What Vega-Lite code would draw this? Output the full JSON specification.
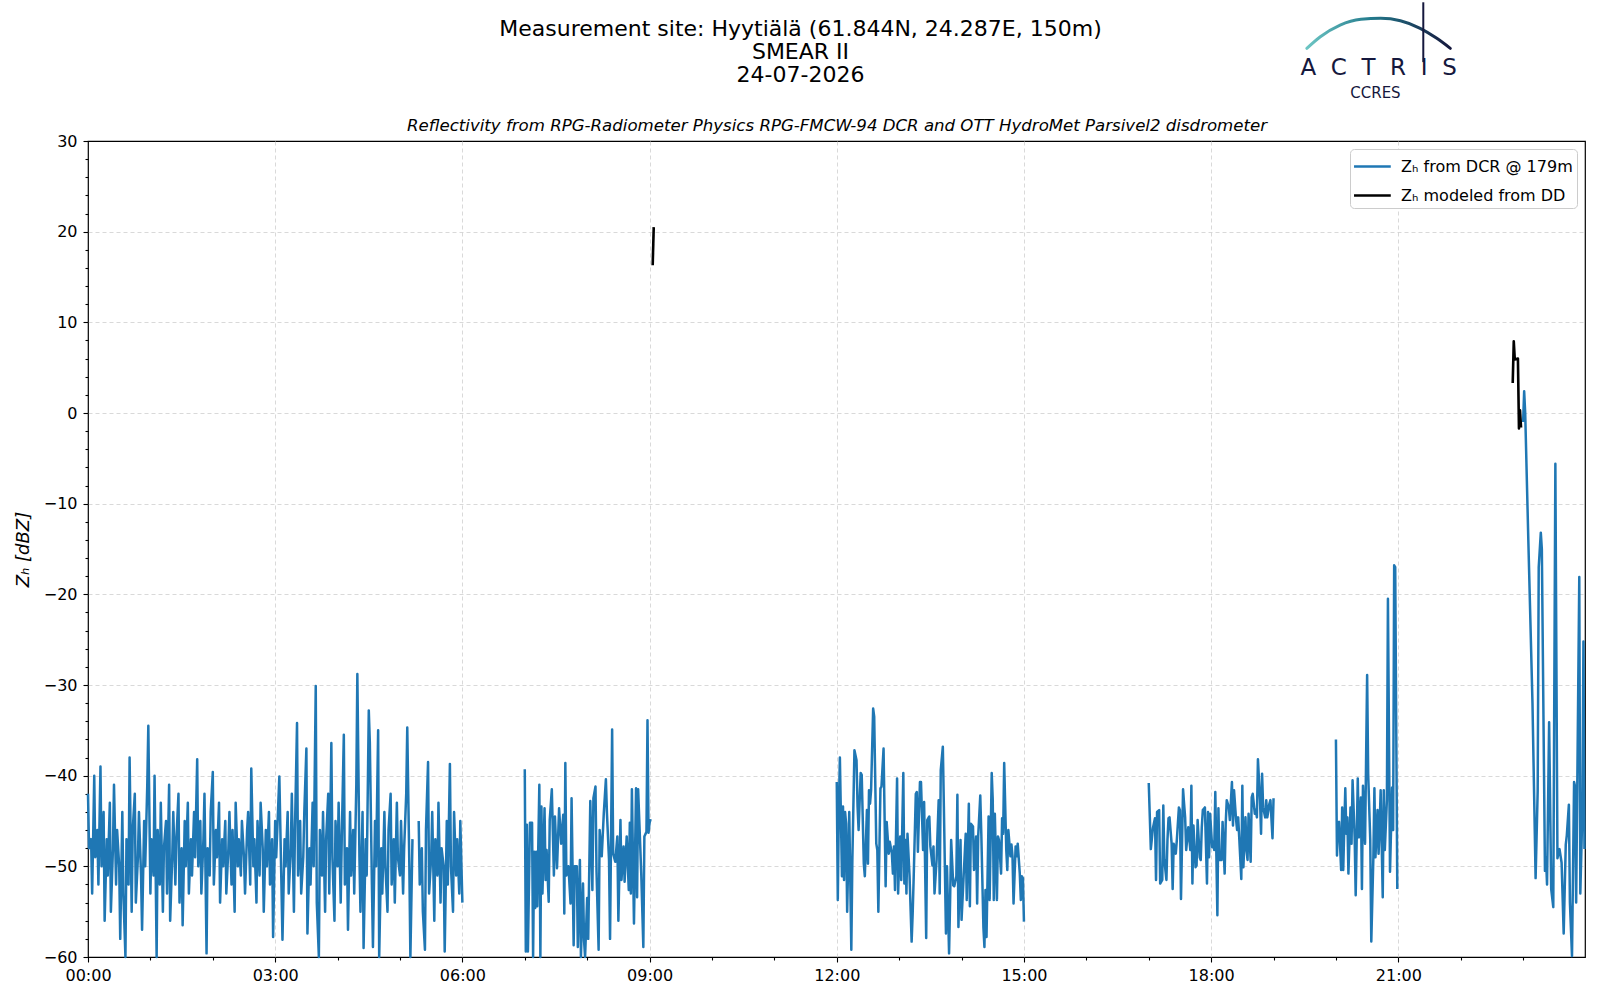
{
  "$schema": "https://vega.github.io/schema/vega-lite/v6.json",
  "autosize": "none",
  "width": 1497,
  "height": 816,
  "padding": {"left": 88, "top": 141, "right": 15, "bottom": 43},
  "background": "white",
  "title": {
    "text": ["Measurement site: Hyytiälä (61.844N, 24.287E, 150m)", "SMEAR II", "24-07-2026"],
    "anchor": "middle",
    "frame": "group",
    "dx": -36,
    "offset": -86,
    "font": "DejaVu Sans",
    "fontSize": 22,
    "fontWeight": "normal",
    "color": "black",
    "lineHeight": 23
  },
  "config": {
    "font": "DejaVu Sans",
    "view": {"stroke": "black", "strokeWidth": 1.2},
    "axis": {
      "labelFont": "DejaVu Sans",
      "labelColor": "black",
      "titleFont": "DejaVu Sans",
      "titleColor": "black",
      "tickColor": "black",
      "tickWidth": 1.1,
      "gridColor": "#cfcfcf",
      "gridDash": [4, 3],
      "gridWidth": 0.8
    }
  },
  "resolve": {"axis": {"x": "independent", "y": "independent"}},
  "layer": [
    {
      "data": {
        "values": [
          {"t":0,"z":-42,"s":1},{"t":1,"z":-48,"s":1},{"t":3,"z":-47,"s":1},{"t":4,"z":-53,"s":1},{"t":6,"z":-40,"s":1},
          {"t":7,"z":-49,"s":1},{"t":9,"z":-46,"s":1},{"t":10,"z":-52,"s":1},{"t":12,"z":-39,"s":1},{"t":13,"z":-50,"s":1},
          {"t":15,"z":-44,"s":1},{"t":16,"z":-56,"s":1},{"t":18,"z":-47,"s":1},{"t":19,"z":-51,"s":1},{"t":21,"z":-43,"s":1},
          {"t":22,"z":-55,"s":1},{"t":24,"z":-48,"s":1},{"t":25,"z":-41,"s":1},{"t":27,"z":-52,"s":1},{"t":28,"z":-46,"s":1},
          {"t":30,"z":-50,"s":1},{"t":31,"z":-58,"s":1},{"t":33,"z":-44,"s":1},{"t":34,"z":-53,"s":1},{"t":36,"z":-60,"s":1},
          {"t":37,"z":-47,"s":1},{"t":39,"z":-52,"s":1},{"t":40,"z":-38,"s":1},{"t":42,"z":-55,"s":1},{"t":43,"z":-46,"s":1},
          {"t":45,"z":-42,"s":1},{"t":46,"z":-54,"s":1},{"t":48,"z":-49,"s":1},{"t":49,"z":-44,"s":1},{"t":51,"z":-51,"s":1},
          {"t":52,"z":-57,"s":1},{"t":54,"z":-45,"s":1},{"t":55,"z":-50,"s":1},{"t":57,"z":-41,"s":1},{"t":58,"z":-34.5,"s":1},
          {"t":60,"z":-53,"s":1},{"t":61,"z":-47,"s":1},{"t":63,"z":-51,"s":1},{"t":64,"z":-40,"s":1},{"t":66,"z":-60,"s":1},
          {"t":67,"z":-46,"s":1},{"t":69,"z":-52,"s":1},{"t":70,"z":-43,"s":1},{"t":72,"z":-55,"s":1},{"t":73,"z":-48,"s":1},
          {"t":75,"z":-45,"s":1},{"t":76,"z":-53,"s":1},{"t":78,"z":-41,"s":1},{"t":79,"z":-56,"s":1},{"t":81,"z":-49,"s":1},
          {"t":82,"z":-44,"s":1},{"t":84,"z":-52,"s":1},{"t":85,"z":-47,"s":1},{"t":87,"z":-42,"s":1},{"t":88,"z":-54,"s":1},
          {"t":90,"z":-48,"s":1},{"t":91,"z":-56.5,"s":1},{"t":93,"z":-45,"s":1},{"t":94,"z":-50,"s":1},{"t":96,"z":-43,"s":1},
          {"t":97,"z":-53,"s":1},{"t":99,"z":-47,"s":1},{"t":100,"z":-51,"s":1},{"t":102,"z":-44,"s":1},{"t":103,"z":-49,"s":1},
          {"t":105,"z":-38.2,"s":1},{"t":106,"z":-50,"s":1},{"t":108,"z":-45,"s":1},{"t":109,"z":-53,"s":1},{"t":111,"z":-47,"s":1},
          {"t":112,"z":-42,"s":1},{"t":114,"z":-59.6,"s":1},{"t":115,"z":-48,"s":1},{"t":117,"z":-51,"s":1},{"t":118,"z":-44,"s":1},
          {"t":120,"z":-39.6,"s":1},{"t":121,"z":-52,"s":1},{"t":123,"z":-46,"s":1},{"t":124,"z":-49,"s":1},{"t":126,"z":-43,"s":1},
          {"t":127,"z":-54,"s":1},{"t":129,"z":-47,"s":1},{"t":130,"z":-50,"s":1},{"t":132,"z":-45,"s":1},{"t":133,"z":-53,"s":1},
          {"t":135,"z":-48,"s":1},{"t":136,"z":-44,"s":1},{"t":138,"z":-52,"s":1},{"t":139,"z":-46,"s":1},{"t":141,"z":-55,"s":1},
          {"t":142,"z":-43,"s":1},{"t":144,"z":-50,"s":1},{"t":145,"z":-47,"s":1},{"t":147,"z":-51,"s":1},{"t":148,"z":-45,"s":1},
          {"t":150,"z":-49,"s":1},{"t":151,"z":-53,"s":1},{"t":153,"z":-46,"s":1},{"t":154,"z":-44,"s":1},{"t":156,"z":-52,"s":1},
          {"t":157,"z":-39.2,"s":1},{"t":159,"z":-50,"s":1},{"t":160,"z":-47,"s":1},{"t":162,"z":-54,"s":1},{"t":163,"z":-45,"s":1},
          {"t":165,"z":-51,"s":1},{"t":166,"z":-43,"s":1},{"t":168,"z":-48,"s":1},{"t":169,"z":-55,"s":1},{"t":171,"z":-46,"s":1},
          {"t":172,"z":-50,"s":1},{"t":174,"z":-44,"s":1},{"t":175,"z":-52,"s":1},{"t":177,"z":-47,"s":1},{"t":178,"z":-57.8,"s":1},
          {"t":180,"z":-45,"s":1},{"t":181,"z":-49,"s":1},{"t":183,"z":-43,"s":1},{"t":184,"z":-40.1,"s":1},{"t":186,"z":-52,"s":1},
          {"t":187,"z":-58.1,"s":1},{"t":189,"z":-47,"s":1},{"t":190,"z":-50,"s":1},{"t":192,"z":-44,"s":1},{"t":193,"z":-53,"s":1},
          {"t":195,"z":-48,"s":1},{"t":196,"z":-42,"s":1},{"t":198,"z":-55,"s":1},{"t":199,"z":-46,"s":1},{"t":201,"z":-34.2,"s":1},
          {"t":202,"z":-51,"s":1},{"t":204,"z":-45,"s":1},{"t":205,"z":-53,"s":1},{"t":207,"z":-49,"s":1},{"t":208,"z":-44,"s":1},
          {"t":210,"z":-37,"s":1},{"t":211,"z":-57.4,"s":1},{"t":213,"z":-48,"s":1},{"t":214,"z":-52,"s":1},{"t":216,"z":-43,"s":1},
          {"t":217,"z":-50,"s":1},{"t":219,"z":-30.1,"s":1},{"t":220,"z":-54,"s":1},{"t":222,"z":-60,"s":1},{"t":223,"z":-46,"s":1},
          {"t":225,"z":-51,"s":1},{"t":226,"z":-44,"s":1},{"t":228,"z":-55,"s":1},{"t":229,"z":-47,"s":1},{"t":231,"z":-42,"s":1},
          {"t":232,"z":-53,"s":1},{"t":234,"z":-36.4,"s":1},{"t":235,"z":-49,"s":1},{"t":237,"z":-56,"s":1},{"t":238,"z":-45,"s":1},
          {"t":240,"z":-50,"s":1},{"t":241,"z":-43,"s":1},{"t":243,"z":-54,"s":1},{"t":244,"z":-47,"s":1},{"t":246,"z":-35.5,"s":1},
          {"t":247,"z":-52,"s":1},{"t":249,"z":-48,"s":1},{"t":250,"z":-57,"s":1},{"t":252,"z":-44,"s":1},{"t":253,"z":-51,"s":1},
          {"t":255,"z":-46,"s":1},{"t":256,"z":-53,"s":1},{"t":258,"z":-41,"s":1},{"t":259,"z":-28.8,"s":1},{"t":261,"z":-49,"s":1},
          {"t":262,"z":-55,"s":1},{"t":264,"z":-44,"s":1},{"t":265,"z":-59,"s":1},{"t":267,"z":-47,"s":1},{"t":268,"z":-51,"s":1},
          {"t":270,"z":-32.8,"s":1},{"t":271,"z":-36.3,"s":1},{"t":273,"z":-52,"s":1},{"t":274,"z":-58.9,"s":1},{"t":276,"z":-45,"s":1},
          {"t":277,"z":-50,"s":1},{"t":279,"z":-35,"s":1},{"t":280,"z":-60,"s":1},{"t":282,"z":-48,"s":1},{"t":283,"z":-53,"s":1},
          {"t":285,"z":-44,"s":1},{"t":286,"z":-50,"s":1},{"t":288,"z":-55,"s":1},{"t":289,"z":-46,"s":1},{"t":291,"z":-42,"s":1},
          {"t":292,"z":-52,"s":1},{"t":294,"z":-47,"s":1},{"t":295,"z":-54,"s":1},{"t":297,"z":-43,"s":1},{"t":298,"z":-49,"s":1},
          {"t":300,"z":-51,"s":1},{"t":301,"z":-45,"s":1},{"t":303,"z":-53,"s":1},{"t":304,"z":-48,"s":1},{"t":306,"z":-42,"s":1},
          {"t":307,"z":-34.7,"s":1},{"t":309,"z":-50,"s":1},{"t":310,"z":-60,"s":1},{"t":312,"z":-47,"s":1},
          {"t":318,"z":-45,"s":2},{"t":319,"z":-52,"s":2},{"t":321,"z":-48,"s":2},{"t":322,"z":-55,"s":2},{"t":324,"z":-59.2,"s":2},
          {"t":325,"z":-46,"s":2},{"t":327,"z":-38.5,"s":2},{"t":328,"z":-53,"s":2},{"t":330,"z":-49,"s":2},{"t":331,"z":-44,"s":2},
          {"t":333,"z":-56,"s":2},{"t":334,"z":-47,"s":2},{"t":336,"z":-51,"s":2},{"t":337,"z":-43,"s":2},{"t":339,"z":-54,"s":2},
          {"t":340,"z":-48,"s":2},{"t":342,"z":-50,"s":2},{"t":343,"z":-59.4,"s":2},{"t":345,"z":-45,"s":2},{"t":346,"z":-52,"s":2},
          {"t":348,"z":-38.7,"s":2},{"t":349,"z":-50,"s":2},{"t":351,"z":-55,"s":2},{"t":352,"z":-44,"s":2},{"t":354,"z":-51,"s":2},
          {"t":355,"z":-47,"s":2},{"t":357,"z":-53,"s":2},{"t":358,"z":-45,"s":2},{"t":360,"z":-54,"s":2},
          {"t":420,"z":-39.3,"s":3},{"t":421,"z":-59.4,"s":3},{"t":422,"z":-45.4,"s":3},{"t":423,"z":-59.4,"s":3},{"t":425,"z":-45.2,"s":3},
          {"t":427,"z":-45.2,"s":3},{"t":428,"z":-60,"s":3},{"t":429,"z":-48.4,"s":3},{"t":430,"z":-54.6,"s":3},{"t":431,"z":-48.4,"s":3},
          {"t":432,"z":-54.4,"s":3},{"t":434,"z":-41,"s":3},{"t":435,"z":-60,"s":3},{"t":436,"z":-43.4,"s":3},{"t":437,"z":-53,"s":3},
          {"t":439,"z":-43.6,"s":3},{"t":440,"z":-51.5,"s":3},{"t":441,"z":-48.2,"s":3},{"t":443,"z":-53.9,"s":3},{"t":444,"z":-44.9,"s":3},
          {"t":446,"z":-41.5,"s":3},{"t":448,"z":-51,"s":3},{"t":449,"z":-44.5,"s":3},{"t":451,"z":-50.2,"s":3},{"t":453,"z":-43.6,"s":3},
          {"t":455,"z":-47.5,"s":3},{"t":457,"z":-44.3,"s":3},{"t":458,"z":-55.2,"s":3},{"t":459,"z":-38.6,"s":3},{"t":460,"z":-51,"s":3},
          {"t":462,"z":-50,"s":3},{"t":464,"z":-54.1,"s":3},{"t":465,"z":-42.5,"s":3},{"t":467,"z":-58.7,"s":3},{"t":468,"z":-50,"s":3},
          {"t":470,"z":-50,"s":3},{"t":471,"z":-58.9,"s":3},{"t":473,"z":-49.3,"s":3},{"t":474,"z":-60,"s":3},{"t":476,"z":-51.9,"s":3},
          {"t":477,"z":-58.2,"s":3},{"t":478,"z":-60,"s":3},{"t":480,"z":-53.5,"s":3},{"t":481,"z":-58,"s":3},{"t":483,"z":-42.8,"s":3},
          {"t":485,"z":-52.6,"s":3},{"t":486,"z":-42.5,"s":3},{"t":488,"z":-41.2,"s":3},{"t":489,"z":-50.6,"s":3},{"t":491,"z":-59.2,"s":3},
          {"t":492,"z":-46,"s":3},{"t":494,"z":-48.9,"s":3},{"t":496,"z":-44.1,"s":3},{"t":498,"z":-40.4,"s":3},{"t":499,"z":-44.1,"s":3},
          {"t":501,"z":-49.3,"s":3},{"t":502,"z":-58,"s":3},{"t":504,"z":-34.9,"s":3},{"t":505,"z":-48.6,"s":3},{"t":507,"z":-49.5,"s":3},
          {"t":509,"z":-46.7,"s":3},{"t":510,"z":-56,"s":3},{"t":512,"z":-44.9,"s":3},{"t":513,"z":-51.5,"s":3},{"t":515,"z":-47.8,"s":3},
          {"t":516,"z":-51.7,"s":3},{"t":518,"z":-46.7,"s":3},{"t":520,"z":-52.6,"s":3},{"t":521,"z":-45.2,"s":3},{"t":522,"z":-53,"s":3},
          {"t":523,"z":-41.5,"s":3},{"t":525,"z":-56.3,"s":3},{"t":527,"z":-41.4,"s":3},{"t":528,"z":-53.4,"s":3},{"t":529,"z":-41.5,"s":3},
          {"t":532,"z":-50.8,"s":3},{"t":534,"z":-58.9,"s":3},{"t":535,"z":-46.7,"s":3},{"t":537,"z":-46.2,"s":3},{"t":538,"z":-33.9,"s":3},
          {"t":539,"z":-46.3,"s":3},{"t":540,"z":-45.2,"s":3},{"t":541,"z":-44.8,"s":3},
          {"t":720,"z":-40.7,"s":4},{"t":721,"z":-53.7,"s":4},{"t":722,"z":-43.8,"s":4},{"t":723,"z":-38,"s":4},{"t":725,"z":-51.1,"s":4},
          {"t":726,"z":-43.4,"s":4},{"t":727,"z":-51.5,"s":4},{"t":728,"z":-44,"s":4},{"t":729,"z":-45.3,"s":4},{"t":730,"z":-55,"s":4},
          {"t":732,"z":-44,"s":4},{"t":734,"z":-59.2,"s":4},{"t":735,"z":-49.3,"s":4},{"t":737,"z":-37.2,"s":4},{"t":739,"z":-38.3,"s":4},
          {"t":740,"z":-43.4,"s":4},{"t":741,"z":-46,"s":4},{"t":743,"z":-39.7,"s":4},{"t":744,"z":-39.9,"s":4},{"t":746,"z":-49.7,"s":4},
          {"t":747,"z":-51.1,"s":4},{"t":749,"z":-43.8,"s":4},{"t":750,"z":-49.7,"s":4},{"t":751,"z":-41.6,"s":4},{"t":752,"z":-43.1,"s":4},
          {"t":753,"z":-41.6,"s":4},{"t":755,"z":-32.6,"s":4},{"t":756,"z":-33.5,"s":4},{"t":758,"z":-47.5,"s":4},{"t":759,"z":-48.2,"s":4},
          {"t":760,"z":-55,"s":4},{"t":762,"z":-41.4,"s":4},{"t":763,"z":-41.2,"s":4},{"t":765,"z":-37,"s":4},{"t":767,"z":-52.2,"s":4},
          {"t":768,"z":-45.1,"s":4},{"t":770,"z":-48.6,"s":4},{"t":771,"z":-47.3,"s":4},{"t":773,"z":-48.6,"s":4},{"t":774,"z":-50.8,"s":4},
          {"t":775,"z":-47.8,"s":4},{"t":776,"z":-52.6,"s":4},{"t":778,"z":-40.3,"s":4},{"t":779,"z":-53,"s":4},{"t":780,"z":-49.3,"s":4},
          {"t":781,"z":-46.7,"s":4},{"t":782,"z":-51.5,"s":4},{"t":784,"z":-39.7,"s":4},{"t":785,"z":-51.9,"s":4},{"t":786,"z":-47.1,"s":4},
          {"t":787,"z":-53,"s":4},{"t":788,"z":-46.4,"s":4},{"t":790,"z":-51.1,"s":4},{"t":792,"z":-58.3,"s":4},{"t":793,"z":-55.2,"s":4},
          {"t":794,"z":-51.1,"s":4},{"t":796,"z":-42,"s":4},{"t":797,"z":-41.8,"s":4},{"t":798,"z":-48.4,"s":4},{"t":800,"z":-40.7,"s":4},
          {"t":801,"z":-40.7,"s":4},{"t":803,"z":-48.2,"s":4},{"t":804,"z":-42.9,"s":4},{"t":806,"z":-57.9,"s":4},{"t":807,"z":-44.9,"s":4},
          {"t":809,"z":-44.5,"s":4},{"t":810,"z":-47.8,"s":4},{"t":812,"z":-49.9,"s":4},{"t":813,"z":-47.8,"s":4},{"t":814,"z":-53,"s":4},
          {"t":816,"z":-49.3,"s":4},{"t":818,"z":-42.7,"s":4},{"t":819,"z":-53,"s":4},{"t":820,"z":-39.4,"s":4},{"t":822,"z":-36.8,"s":4},
          {"t":823,"z":-43.4,"s":4},{"t":825,"z":-57.4,"s":4},{"t":826,"z":-50,"s":4},{"t":828,"z":-59.6,"s":4},{"t":829,"z":-53.7,"s":4},
          {"t":830,"z":-47.1,"s":4},{"t":832,"z":-52.1,"s":4},{"t":833,"z":-52.2,"s":4},{"t":835,"z":-51.1,"s":4},{"t":836,"z":-42.1,"s":4},
          {"t":837,"z":-56.7,"s":4},{"t":839,"z":-47.1,"s":4},{"t":840,"z":-55.9,"s":4},{"t":842,"z":-51.1,"s":4},{"t":844,"z":-46.4,"s":4},
          {"t":845,"z":-53.7,"s":4},{"t":847,"z":-43.1,"s":4},{"t":848,"z":-54.4,"s":4},{"t":849,"z":-45.3,"s":4},{"t":851,"z":-45.6,"s":4},
          {"t":852,"z":-50.4,"s":4},{"t":854,"z":-46.7,"s":4},{"t":855,"z":-54.1,"s":4},{"t":856,"z":-46.7,"s":4},{"t":858,"z":-42.2,"s":4},
          {"t":859,"z":-46.4,"s":4},{"t":861,"z":-56.7,"s":4},{"t":862,"z":-58.9,"s":4},{"t":863,"z":-52.6,"s":4},{"t":864,"z":-57.8,"s":4},
          {"t":866,"z":-44.5,"s":4},{"t":867,"z":-53.7,"s":4},{"t":869,"z":-39.7,"s":4},{"t":870,"z":-42.7,"s":4},{"t":871,"z":-53.7,"s":4},
          {"t":872,"z":-44.2,"s":4},{"t":874,"z":-53.7,"s":4},{"t":875,"z":-46.7,"s":4},{"t":876,"z":-47.1,"s":4},{"t":878,"z":-50.8,"s":4},
          {"t":879,"z":-44.7,"s":4},{"t":880,"z":-46.4,"s":4},{"t":881,"z":-38.6,"s":4},{"t":883,"z":-48.2,"s":4},{"t":884,"z":-50.4,"s":4},
          {"t":885,"z":-46,"s":4},{"t":887,"z":-48.9,"s":4},{"t":888,"z":-47.6,"s":4},{"t":889,"z":-48.9,"s":4},{"t":890,"z":-54.1,"s":4},
          {"t":892,"z":-47.8,"s":4},{"t":893,"z":-48.9,"s":4},{"t":894,"z":-47.5,"s":4},{"t":896,"z":-50.8,"s":4},{"t":897,"z":-53.7,"s":4},
          {"t":898,"z":-51.1,"s":4},{"t":899,"z":-51.3,"s":4},{"t":900,"z":-56.1,"s":4},
          {"t":1020,"z":-40.8,"s":5},{"t":1022,"z":-48.1,"s":5},{"t":1024,"z":-45.8,"s":5},{"t":1026,"z":-44.7,"s":5},{"t":1027,"z":-51.5,"s":5},
          {"t":1028,"z":-44,"s":5},{"t":1030,"z":-43.8,"s":5},{"t":1031,"z":-51.9,"s":5},{"t":1033,"z":-51.5,"s":5},{"t":1034,"z":-43.3,"s":5},
          {"t":1035,"z":-49.3,"s":5},{"t":1037,"z":-51.5,"s":5},{"t":1038,"z":-47.1,"s":5},{"t":1039,"z":-44.7,"s":5},{"t":1040,"z":-44.6,"s":5},
          {"t":1042,"z":-47.5,"s":5},{"t":1043,"z":-52.5,"s":5},{"t":1044,"z":-47.5,"s":5},{"t":1046,"z":-48.6,"s":5},{"t":1047,"z":-47.1,"s":5},
          {"t":1049,"z":-43.5,"s":5},{"t":1050,"z":-43.8,"s":5},{"t":1051,"z":-53.6,"s":5},{"t":1053,"z":-41.5,"s":5},{"t":1054,"z":-43.1,"s":5},
          {"t":1055,"z":-44.6,"s":5},{"t":1056,"z":-48.2,"s":5},{"t":1058,"z":-45.7,"s":5},{"t":1060,"z":-48.2,"s":5},{"t":1061,"z":-41.1,"s":5},
          {"t":1062,"z":-51.9,"s":5},{"t":1063,"z":-45.5,"s":5},{"t":1065,"z":-50.1,"s":5},{"t":1066,"z":-49.9,"s":5},{"t":1067,"z":-44.9,"s":5},
          {"t":1069,"z":-49,"s":5},{"t":1070,"z":-49.3,"s":5},{"t":1071,"z":-45.7,"s":5},{"t":1072,"z":-43.8,"s":5},{"t":1074,"z":-43.5,"s":5},
          {"t":1076,"z":-51.9,"s":5},{"t":1077,"z":-44,"s":5},{"t":1078,"z":-49,"s":5},{"t":1079,"z":-44.2,"s":5},{"t":1081,"z":-47.9,"s":5},
          {"t":1082,"z":-47.3,"s":5},{"t":1083,"z":-48.2,"s":5},{"t":1084,"z":-41.8,"s":5},{"t":1086,"z":-55.4,"s":5},{"t":1087,"z":-43.6,"s":5},
          {"t":1088,"z":-49.3,"s":5},{"t":1090,"z":-49.3,"s":5},{"t":1091,"z":-45.1,"s":5},{"t":1093,"z":-50.8,"s":5},{"t":1094,"z":-45.3,"s":5},
          {"t":1095,"z":-42.7,"s":5},{"t":1097,"z":-43.5,"s":5},{"t":1098,"z":-44.9,"s":5},{"t":1100,"z":-40.7,"s":5},{"t":1101,"z":-45.5,"s":5},
          {"t":1102,"z":-41.6,"s":5},{"t":1104,"z":-44.9,"s":5},{"t":1105,"z":-46,"s":5},{"t":1106,"z":-44.6,"s":5},{"t":1107,"z":-46.8,"s":5},
          {"t":1109,"z":-51.4,"s":5},{"t":1110,"z":-41.1,"s":5},{"t":1111,"z":-50.1,"s":5},{"t":1113,"z":-44.6,"s":5},{"t":1114,"z":-48.2,"s":5},
          {"t":1115,"z":-49.3,"s":5},{"t":1116,"z":-44.2,"s":5},{"t":1118,"z":-49.5,"s":5},{"t":1119,"z":-42.4,"s":5},{"t":1120,"z":-42,"s":5},
          {"t":1122,"z":-44.2,"s":5},{"t":1123,"z":-43.8,"s":5},{"t":1124,"z":-44.6,"s":5},{"t":1125,"z":-38.2,"s":5},{"t":1127,"z":-42.7,"s":5},
          {"t":1128,"z":-46.4,"s":5},{"t":1129,"z":-39.8,"s":5},{"t":1130,"z":-43.5,"s":5},{"t":1132,"z":-44.6,"s":5},{"t":1133,"z":-42.7,"s":5},
          {"t":1134,"z":-44.6,"s":5},{"t":1136,"z":-43.1,"s":5},{"t":1137,"z":-42.7,"s":5},{"t":1139,"z":-46.9,"s":5},{"t":1140,"z":-42.5,"s":5},
          {"t":1200,"z":-36,"s":6},{"t":1201,"z":-48.8,"s":6},{"t":1202,"z":-45.3,"s":6},{"t":1203,"z":-45.1,"s":6},{"t":1205,"z":-50.4,"s":6},
          {"t":1206,"z":-43.5,"s":6},{"t":1207,"z":-50.4,"s":6},{"t":1209,"z":-41.4,"s":6},{"t":1210,"z":-46.4,"s":6},{"t":1211,"z":-44.6,"s":6},
          {"t":1212,"z":-50.8,"s":6},{"t":1214,"z":-43.5,"s":6},{"t":1215,"z":-47.5,"s":6},{"t":1216,"z":-40.5,"s":6},{"t":1218,"z":-46.8,"s":6},
          {"t":1219,"z":-53.2,"s":6},{"t":1221,"z":-40.3,"s":6},{"t":1222,"z":-46.8,"s":6},{"t":1224,"z":-42.4,"s":6},{"t":1225,"z":-52.5,"s":6},
          {"t":1226,"z":-41.1,"s":6},{"t":1228,"z":-47.5,"s":6},{"t":1230,"z":-28.9,"s":6},{"t":1231,"z":-39.8,"s":6},{"t":1233,"z":-47.1,"s":6},
          {"t":1234,"z":-58.3,"s":6},{"t":1236,"z":-49,"s":6},{"t":1237,"z":-41.4,"s":6},{"t":1238,"z":-49,"s":6},{"t":1240,"z":-43.8,"s":6},
          {"t":1241,"z":-48.6,"s":6},{"t":1242,"z":-45.7,"s":6},{"t":1243,"z":-41.6,"s":6},{"t":1245,"z":-53.4,"s":6},{"t":1246,"z":-41.6,"s":6},
          {"t":1247,"z":-48.2,"s":6},{"t":1249,"z":-42.7,"s":6},{"t":1250,"z":-20.5,"s":6},{"t":1252,"z":-50.6,"s":6},{"t":1254,"z":-41.3,"s":6},
          {"t":1255,"z":-46,"s":6},{"t":1256,"z":-16.8,"s":6},{"t":1257,"z":-17,"s":6},{"t":1259,"z":-52.5,"s":6},
          {"t":1380,"z":-1,"s":7},{"t":1381,"z":2.4,"s":7},{"t":1382,"z":0,"s":7},{"t":1385,"z":-14,"s":7},{"t":1389,"z":-32,"s":7},
          {"t":1392,"z":-51.3,"s":7},{"t":1394,"z":-41.7,"s":7},{"t":1395,"z":-17,"s":7},{"t":1397,"z":-13.2,"s":7},{"t":1398,"z":-15,"s":7},
          {"t":1401,"z":-50.5,"s":7},{"t":1402,"z":-49,"s":7},{"t":1403,"z":-52,"s":7},{"t":1405,"z":-34.1,"s":7},{"t":1407,"z":-52.5,"s":7},
          {"t":1409,"z":-54.5,"s":7},{"t":1411,"z":-5.6,"s":7},{"t":1413,"z":-49.1,"s":7},{"t":1415,"z":-48.1,"s":7},{"t":1417,"z":-49.6,"s":7},
          {"t":1419,"z":-57.4,"s":7},{"t":1421,"z":-47.6,"s":7},{"t":1422,"z":-46.6,"s":7},{"t":1424,"z":-43.2,"s":7},{"t":1425,"z":-54,"s":7},
          {"t":1427,"z":-59.9,"s":7},{"t":1429,"z":-40.7,"s":7},{"t":1430,"z":-41.2,"s":7},{"t":1431,"z":-54,"s":7},{"t":1434,"z":-18.1,"s":7},
          {"t":1435,"z":-53,"s":7},{"t":1437,"z":-43.7,"s":7},{"t":1438,"z":-25.2,"s":7},{"t":1439,"z":-48.1,"s":7}
        ]
      },
      "mark": {"type": "line", "strokeWidth": 2.5, "strokeJoin": "round"},
      "encoding": {
        "x": {
          "field": "t",
          "type": "quantitative",
          "scale": {"domain": [0, 1439.5], "nice": false, "zero": false},
          "axis": {
            "orient": "bottom",
            "title": null,
            "values": [0, 180, 360, 540, 720, 900, 1080, 1260],
            "labelExpr": "(floor(datum.value / 60) < 10 ? '0' : '') + floor(datum.value / 60) + ':00'",
            "labelFontSize": 16,
            "labelPadding": 5,
            "labelFlush": false,
            "labelOverlap": false,
            "tickSize": 5,
            "domain": false,
            "grid": true,
            "gridOpacity": {"condition": {"test": "datum.value == 0", "value": 0}, "value": 1}
          }
        },
        "y": {
          "field": "z",
          "type": "quantitative",
          "scale": {"domain": [-60, 30], "nice": false, "zero": false},
          "axis": {
            "orient": "left",
            "title": "Zₕ [dBZ]",
            "titleFontSize": 18,
            "titleFontStyle": "italic",
            "titleFontWeight": "normal",
            "titlePadding": 11,
            "values": [-60, -50, -40, -30, -20, -10, 0, 10, 20, 30],
            "labelFontSize": 16,
            "labelPadding": 6,
            "tickSize": 5,
            "domain": false,
            "grid": true,
            "gridOpacity": {"condition": {"test": "datum.value == -60 || datum.value == 30", "value": 0}, "value": 1}
          }
        },
        "detail": {"field": "s", "type": "nominal"},
        "color": {
          "datum": "Zₕ from DCR @ 179m",
          "scale": {
            "domain": ["Zₕ from DCR @ 179m", "Zₕ modeled from DD"],
            "range": ["#1f77b4", "#000000"]
          },
          "legend": {
            "title": null,
            "orient": "top-right",
            "offset": 8,
            "padding": 4,
            "fillColor": "white",
            "strokeColor": "#cccccc",
            "cornerRadius": 4,
            "symbolType": "M-1.1,0H1.9",
            "symbolSize": 600,
            "symbolStrokeWidth": 2.5,
            "labelFontSize": 16,
            "labelFont": "DejaVu Sans",
            "labelColor": "black",
            "labelLimit": 500,
            "labelOffset": 20,
            "rowPadding": 7
          }
        }
      }
    },
    {
      "data": {
        "values": [
          {"t":543,"z":16.3,"s":1},{"t":544,"z":20.5,"s":1},
          {"t":1370,"z":3.3,"s":2},{"t":1371,"z":7.9,"s":2},{"t":1372,"z":5.9,"s":2},{"t":1375,"z":6.0,"s":2},
          {"t":1376,"z":-1.7,"s":2},{"t":1377,"z":0.3,"s":2},{"t":1378,"z":-1.6,"s":2}
        ]
      },
      "mark": {"type": "line", "strokeWidth": 2.6, "strokeJoin": "round"},
      "encoding": {
        "x": {
          "field": "t",
          "type": "quantitative",
          "axis": {
            "orient": "bottom",
            "title": null,
            "values": [60, 120, 240, 300, 420, 480, 600, 660, 780, 840, 960, 1020, 1140, 1200, 1320, 1380],
            "labels": false,
            "grid": false,
            "domain": false,
            "tickSize": 3
          }
        },
        "y": {
          "field": "z",
          "type": "quantitative",
          "axis": {
            "orient": "left",
            "title": null,
            "values": [-58, -56, -54, -52, -48, -46, -44, -42, -38, -36, -34, -32, -28, -26, -24, -22, -18, -16, -14, -12, -8, -6, -4, -2, 2, 4, 6, 8, 12, 14, 16, 18, 22, 24, 26, 28],
            "labels": false,
            "grid": false,
            "domain": false,
            "tickSize": 3
          }
        },
        "detail": {"field": "s", "type": "nominal"},
        "color": {"datum": "Zₕ modeled from DD"}
      }
    },
    {
      "data": {
        "values": [
          {"t":1172,"z":40.22},{"t":1185,"z":41.5},{"t":1204,"z":42.79},{"t":1224,"z":43.42},{"t":1243,"z":43.53},
          {"t":1262,"z":43.26},{"t":1281,"z":42.43},{"t":1297,"z":41.32},{"t":1310,"z":40.22}
        ]
      },
      "mark": {
        "type": "line",
        "interpolate": "monotone",
        "strokeWidth": 3,
        "strokeCap": "round",
        "stroke": {
          "gradient": "linear",
          "x1": 0, "y1": 0, "x2": 1, "y2": 0,
          "stops": [
            {"offset": 0, "color": "#6cc5c3"},
            {"offset": 0.45, "color": "#237a8c"},
            {"offset": 1, "color": "#15183d"}
          ]
        }
      },
      "encoding": {
        "x": {"field": "t", "type": "quantitative", "axis": null},
        "y": {"field": "z", "type": "quantitative", "axis": null}
      }
    },
    {
      "data": {"values": [{}]},
      "mark": {"type": "rule", "color": "#15183d", "strokeWidth": 2},
      "encoding": {
        "x": {"datum": 1284, "type": "quantitative", "axis": null},
        "y": {"datum": 38.7, "type": "quantitative", "axis": null},
        "y2": {"datum": 45.3}
      }
    },
    {
      "data": {"values": [{}]},
      "mark": {"type": "text", "text": "A\u00a0\u00a0C\u00a0\u00a0T\u00a0\u00a0R\u00a0\u00a0I\u00a0\u00a0S", "font": "DejaVu Sans", "fontSize": 23, "color": "#15183d", "align": "center", "baseline": "alphabetic"},
      "encoding": {
        "x": {
          "datum": 1241,
          "type": "quantitative",
          "axis": {
            "orient": "top",
            "title": "Reflectivity from RPG-Radiometer Physics RPG-FMCW-94 DCR and OTT HydroMet Parsivel2 disdrometer",
            "titleFontSize": 16.6,
            "titleFontStyle": "italic",
            "titleFontWeight": "normal",
            "titlePadding": 8,
            "labels": false,
            "ticks": false,
            "domain": false,
            "grid": false
          }
        },
        "y": {"datum": 37.3, "type": "quantitative", "axis": null}
      }
    },
    {
      "data": {"values": [{}]},
      "mark": {"type": "text", "text": "CCRES", "font": "DejaVu Sans", "fontSize": 15, "color": "#15183d", "align": "center", "baseline": "alphabetic"},
      "encoding": {
        "x": {"datum": 1238, "type": "quantitative", "axis": null},
        "y": {"datum": 34.7, "type": "quantitative", "axis": null}
      }
    }
  ]
}
